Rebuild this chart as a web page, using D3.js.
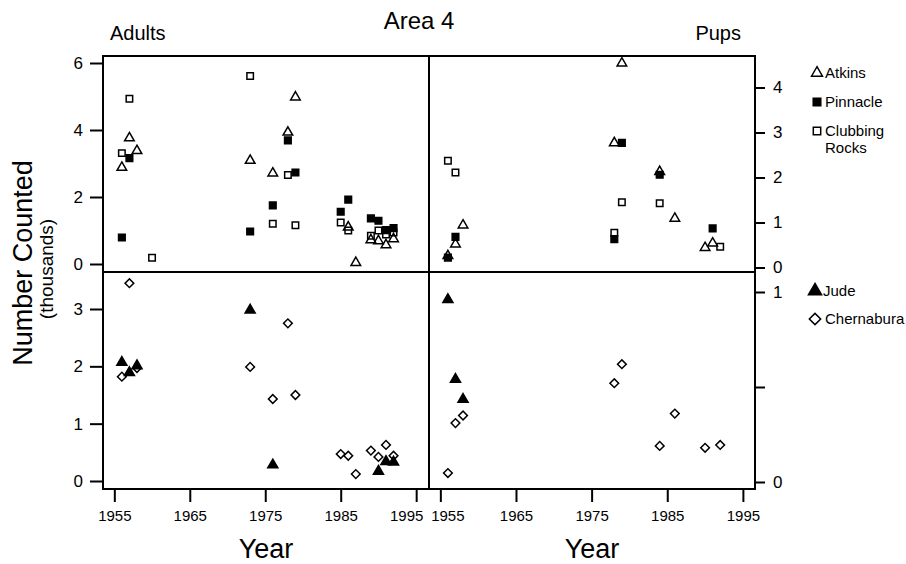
<!DOCTYPE html>
<html><head><meta charset="utf-8">
<script src="https://cdn.jsdelivr.net/npm/d3@7"></script>
<style>
body{margin:0;background:#fff;}
text{font-family:"Liberation Sans",Arial,Helvetica,sans-serif;fill:#000;}
</style></head><body>
<svg id="c" width="906" height="564"></svg>
<script>
// ---- data ----
const yearTicks = [1955, 1965, 1975, 1985, 1995];
const adultsTopTicks = [0, 2, 4, 6];
const adultsBottomTicks = [0, 1, 2, 3];
const pupsTopTicks = [0, 1, 2, 3, 4];
const pupsBottomTicks = [0, 0.5, 1];
const pupsBottomLabels = {0: "0", 0.5: "", 1: "1"};

// Adults (thousands)
const atkinsAdults = [[1956,2.88],[1957,3.76],[1958,3.38],[1973,3.09],[1976,2.71],[1978,3.93],[1979,4.98],[1986,1.10],[1987,0.04],[1989,0.72],[1990,0.69],[1991,0.57],[1992,0.75]];
const pinnacleAdults = [[1956,0.79],[1957,3.16],[1973,0.97],[1976,1.75],[1978,3.69],[1979,2.73],[1985,1.56],[1986,1.92],[1989,1.36],[1990,1.29],[1991,1.01],[1992,1.07]];
const clubbingAdults = [[1956,3.31],[1957,4.93],[1960,0.19],[1973,5.61],[1976,1.20],[1978,2.66],[1979,1.16],[1985,1.24],[1986,1.00],[1989,0.84],[1990,1.00],[1991,0.88],[1992,0.94]];
const judeAdults = [[1956,2.07],[1957,1.89],[1958,2.01],[1973,2.98],[1976,0.28],[1990,0.17],[1991,0.34],[1992,0.33]];
const chernaburaAdults = [[1956,1.82],[1957,3.45],[1958,1.97],[1973,1.99],[1976,1.43],[1978,2.75],[1979,1.50],[1985,0.47],[1986,0.44],[1987,0.12],[1989,0.53],[1990,0.42],[1991,0.63],[1992,0.44]];

// Pups (thousands)
const atkinsPups = [[1956,0.26],[1957,0.52],[1958,0.94],[1978,2.77],[1979,4.54],[1984,2.13],[1986,1.09],[1990,0.44],[1991,0.54]];
const pinnaclePups = [[1956,0.22],[1957,0.68],[1978,0.63],[1979,2.77],[1984,2.06],[1991,0.87]];
const clubbingPups = [[1956,2.37],[1957,2.11],[1978,0.77],[1979,1.45],[1984,1.43],[1992,0.46]];
const judePups = [[1956,0.96],[1957,0.54],[1958,0.435]];
const chernaburaPups = [[1956,0.047],[1957,0.31],[1958,0.35],[1978,0.52],[1979,0.62],[1984,0.19],[1986,0.36],[1990,0.18],[1992,0.195]];

const topLegend = ["Atkins", "Pinnacle", ["Clubbing", "Rocks"]];
const bottomLegend = ["Jude", "Chernabura"];

// ---- drawing ----
const svg = d3.select("#c");
const L = 103, M = 429, R = 755, T = 56, H = 272, B = 489;

const xL = d3.scaleLinear().domain([1953.5, 1996.7]).range([L, M]);
const xR = d3.scaleLinear().domain([1953.5, 1996.6]).range([M, R]);
const yTL = d3.scaleLinear().domain([0, 6]).range([264, 63]);
const yBL = d3.scaleLinear().domain([0, 3]).range([481, 309]);
const yTR = d3.scaleLinear().domain([0, 4]).range([267.5, 87.5]);
const yBR = d3.scaleLinear().domain([0, 1]).range([482, 292]);

// symbols (diamond = square rotated 45deg)
const sym = {
  atkins:   {type: d3.symbolTriangle, size: 40, fill: "none", rot: 0},
  pinnacle: {type: d3.symbolSquare,   size: 44, fill: "#000", rot: 0},
  clubbing: {type: d3.symbolSquare,   size: 42, fill: "none", rot: 0},
  jude:     {type: d3.symbolTriangle, size: 44, fill: "#000", rot: 0},
  cher:     {type: d3.symbolSquare,   size: 38, fill: "none", rot: 45}
};
function drawPts(data, sx, sy, s) {
  svg.append("g").selectAll("path").data(data).join("path")
    .attr("d", d3.symbol().type(s.type).size(s.size))
    .attr("transform", d => `translate(${sx(d[0])},${sy(d[1])}) rotate(${s.rot})`)
    .attr("fill", s.fill).attr("stroke", "#000").attr("stroke-width", 1.5);
}

// frame
const frame = svg.append("g").attr("fill", "none").attr("stroke", "#000").attr("stroke-width", 2);
frame.append("rect").attr("x", L).attr("y", T).attr("width", R - L).attr("height", B - T);
frame.append("line").attr("x1", M).attr("x2", M).attr("y1", T).attr("y2", B);
frame.append("line").attr("x1", L).attr("x2", R).attr("y1", H).attr("y2", H);

function styleAxis(g) {
  g.select(".domain").remove();
  g.selectAll(".tick line").attr("stroke", "#000").attr("stroke-width", 2);
  g.selectAll(".tick text").attr("font-family", '"Liberation Sans",Arial,sans-serif').attr("fill", "#000");
}
// left axes
svg.append("g").attr("transform", `translate(${L - 1},0)`)
  .call(d3.axisLeft(yTL).tickValues(adultsTopTicks).tickSize(12).tickPadding(7).tickFormat(d3.format("d")))
  .call(styleAxis).selectAll("text").attr("font-size", 17);
svg.append("g").attr("transform", `translate(${L - 1},0)`)
  .call(d3.axisLeft(yBL).tickValues(adultsBottomTicks).tickSize(12).tickPadding(7).tickFormat(d3.format("d")))
  .call(styleAxis).selectAll("text").attr("font-size", 17);
// right axes
svg.append("g").attr("transform", `translate(${R},0)`)
  .call(d3.axisRight(yTR).tickValues(pupsTopTicks).tickSize(10).tickPadding(8).tickFormat(d3.format("d")))
  .call(styleAxis).selectAll("text").attr("font-size", 17);
svg.append("g").attr("transform", `translate(${R},0)`)
  .call(d3.axisRight(yBR).tickValues(pupsBottomTicks).tickSize(10).tickPadding(8).tickFormat(d => pupsBottomLabels[d]))
  .call(styleAxis).selectAll("text").attr("font-size", 17);
// bottom axes
const axL = svg.append("g").attr("transform", `translate(0,${B + 1})`)
  .call(d3.axisBottom(xL).tickValues(yearTicks).tickSize(12).tickPadding(8).tickFormat(d3.format("d")))
  .call(styleAxis);
axL.selectAll("text").attr("font-size", 15).attr("dx", d => d === 1995 ? -10 : 0);
const axR = svg.append("g").attr("transform", `translate(0,${B + 1})`)
  .call(d3.axisBottom(xR).tickValues(yearTicks).tickSize(12).tickPadding(8).tickFormat(d3.format("d")))
  .call(styleAxis);
axR.selectAll("text").attr("font-size", 15).attr("dx", d => d === 1955 ? 7 : 0);

// points
drawPts(atkinsAdults, xL, yTL, sym.atkins);
drawPts(clubbingAdults, xL, yTL, sym.clubbing);
drawPts(pinnacleAdults, xL, yTL, sym.pinnacle);
drawPts(chernaburaAdults, xL, yBL, sym.cher);
drawPts(judeAdults, xL, yBL, sym.jude);
drawPts(clubbingPups, xR, yTR, sym.clubbing);
drawPts(atkinsPups, xR, yTR, sym.atkins);
drawPts(pinnaclePups, xR, yTR, sym.pinnacle);
drawPts(chernaburaPups, xR, yBR, sym.cher);
drawPts(judePups, xR, yBR, sym.jude);

// titles
svg.append("text").attr("x", 419).attr("y", 29).attr("text-anchor", "middle").attr("font-size", 24).text("Area 4");
svg.append("text").attr("x", 110).attr("y", 40).attr("font-size", 20).text("Adults");
svg.append("text").attr("x", 741).attr("y", 40).attr("text-anchor", "end").attr("font-size", 20).text("Pups");
svg.append("text").attr("transform", "translate(32,263) rotate(-90)").attr("text-anchor", "middle").attr("font-size", 27).text("Number Counted");
svg.append("text").attr("transform", "translate(53,269) rotate(-90)").attr("text-anchor", "middle").attr("font-size", 19).text("(thousands)");
svg.append("text").attr("x", (L + M) / 2).attr("y", 558).attr("text-anchor", "middle").attr("font-size", 27).text("Year");
svg.append("text").attr("x", (M + R) / 2).attr("y", 558).attr("text-anchor", "middle").attr("font-size", 27).text("Year");

// legend
const legTop = [[sym.atkins, topLegend[0], 73], [sym.pinnacle, topLegend[1], 102], [sym.clubbing, topLegend[2], 131]];
legTop.forEach(([s, lab, y]) => {
  svg.append("path").attr("d", d3.symbol().type(s.type).size(s.size * 1.3)())
    .attr("transform", `translate(817,${y})`).attr("fill", s.fill).attr("stroke", "#000").attr("stroke-width", 1.5);
  const t = svg.append("text").attr("x", 825).attr("y", y + 5).attr("font-size", 15);
  if (Array.isArray(lab)) {
    t.append("tspan").attr("x", 825).text(lab[0]);
    t.append("tspan").attr("x", 825).attr("dy", 17).text(lab[1]);
  } else t.text(lab);
});
const legBot = [[sym.jude, bottomLegend[0], 291, 823], [sym.cher, bottomLegend[1], 319, 825]];
legBot.forEach(([s, lab, y, tx]) => {
  svg.append("path").attr("d", d3.symbol().type(s.type).size(s.size * 1.7)())
    .attr("transform", `translate(815,${y}) rotate(${s.rot})`).attr("fill", s.fill).attr("stroke", "#000").attr("stroke-width", 1.5);
  svg.append("text").attr("x", tx).attr("y", y + 5).attr("font-size", 15).text(lab);
});
</script>
</body></html>
